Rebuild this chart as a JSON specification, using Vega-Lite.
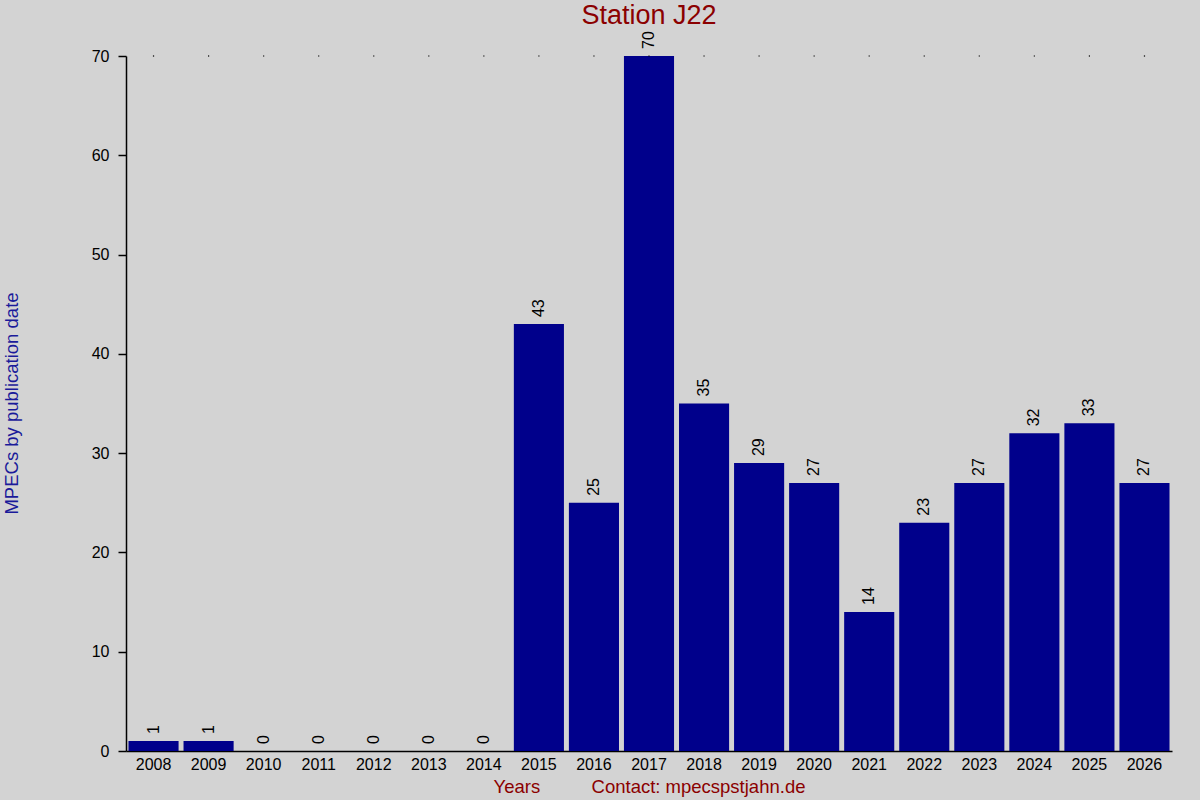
{
  "$schema": "https://vega.github.io/schema/vega-lite/v6.json",
  "autosize": "none",
  "width": 1046,
  "height": 695,
  "padding": {"left": 126, "top": 56, "right": 28, "bottom": 49},
  "background": "#d3d3d3",
  "title": {
    "text": "Station J22",
    "font": "Liberation Sans",
    "fontSize": 27,
    "fontWeight": "normal",
    "color": "#8b0000",
    "anchor": "middle",
    "frame": "group",
    "offset": 1
  },
  "data": {
    "values": [
      {"year": "2008", "count": 1},
      {"year": "2009", "count": 1},
      {"year": "2010", "count": 0},
      {"year": "2011", "count": 0},
      {"year": "2012", "count": 0},
      {"year": "2013", "count": 0},
      {"year": "2014", "count": 0},
      {"year": "2015", "count": 43},
      {"year": "2016", "count": 25},
      {"year": "2017", "count": 70},
      {"year": "2018", "count": 35},
      {"year": "2019", "count": 29},
      {"year": "2020", "count": 27},
      {"year": "2021", "count": 14},
      {"year": "2022", "count": 23},
      {"year": "2023", "count": 27},
      {"year": "2024", "count": 32},
      {"year": "2025", "count": 33},
      {"year": "2026", "count": 27}
    ]
  },
  "encoding": {
    "x": {
      "field": "year",
      "type": "ordinal",
      "scale": {"paddingInner": 0.09, "paddingOuter": 0.045},
      "axis": {
        "title": "Years\u00a0\u00a0\u00a0\u00a0\u00a0\u00a0\u00a0\u00a0\u00a0\u00a0Contact: mpecspstjahn.de",
        "titleFont": "Liberation Sans",
        "titleFontSize": 18.5,
        "titleFontWeight": "normal",
        "titleColor": "#8b0000",
        "titleX": 523,
        "titleY": 35,
        "titleAlign": "center",
        "titleBaseline": "middle",
        "labelAngle": 0,
        "labelFont": "Liberation Sans",
        "labelFontSize": 16,
        "labelColor": "#000000",
        "labelPadding": 5,
        "ticks": false,
        "domainColor": "#000000",
        "domainWidth": 1.5
      }
    }
  },
  "layer": [
    {
      "mark": {"type": "bar", "color": "#00008b"},
      "encoding": {
        "y": {
          "field": "count",
          "type": "quantitative",
          "scale": {"domain": [0, 70], "nice": false},
          "axis": {
            "title": "MPECs by publication date",
            "titleFont": "Liberation Sans",
            "titleFontSize": 18.5,
            "titleFontWeight": "normal",
            "titleColor": "#1a1a9a",
            "titleAngle": -90,
            "titleX": -115,
            "titleY": 347,
            "titleAlign": "center",
            "titleBaseline": "middle",
            "values": [0, 10, 20, 30, 40, 50, 60, 70],
            "grid": false,
            "tickSize": 8,
            "tickColor": "#000000",
            "tickWidth": 1.5,
            "domainColor": "#000000",
            "domainWidth": 1.5,
            "labelFont": "Liberation Sans",
            "labelFontSize": 16,
            "labelColor": "#000000",
            "labelPadding": 9
          }
        }
      }
    },
    {
      "mark": {
        "type": "text",
        "angle": -90,
        "align": "left",
        "baseline": "middle",
        "dx": 7,
        "font": "Liberation Sans",
        "fontSize": 16,
        "color": "#000000"
      },
      "encoding": {
        "y": {"field": "count", "type": "quantitative"},
        "text": {"field": "count", "type": "quantitative"}
      }
    },
    {
      "mark": {"type": "point", "shape": "square", "size": 1.5, "filled": true, "color": "#000000", "opacity": 1},
      "encoding": {
        "y": {"datum": 70}
      }
    }
  ],
  "config": {
    "view": {"stroke": null}
  }
}
